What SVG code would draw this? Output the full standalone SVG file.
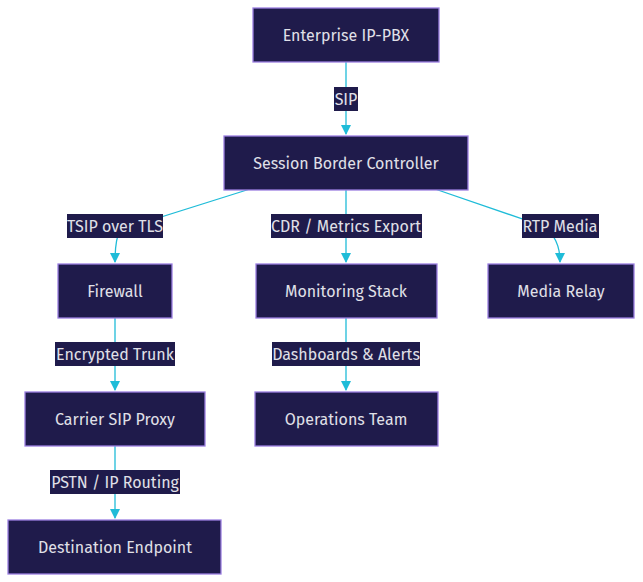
<svg xmlns="http://www.w3.org/2000/svg" width="643" height="582" viewBox="0 0 643 582">
<style>
.n rect{fill:#1f1b4b;stroke:#9b7fe0;stroke-width:1.3}
text{font-family:"Fira Sans","Noto Sans","Liberation Sans",sans-serif;font-size:16px;fill:#e0e0e8;text-anchor:middle;dominant-baseline:central}
.c path{fill:none;stroke:#1fbcd8;stroke-width:1.3}
.l rect{fill:#1f1b4b}
</style>
<defs><marker id="a" viewBox="0 0 10 10" refX="9" refY="5" markerWidth="8" markerHeight="8" orient="auto"><path d="M0,0L10,5L0,10z" fill="#1fbcd8"/></marker></defs>
<rect width="643" height="582" fill="#fff"/>
<g class="c">
<path d="M346,62V134" marker-end="url(#a)"/>
<path d="M250,189L120,230Q115,240 115,262" marker-end="url(#a)"/>
<path d="M346,189V262" marker-end="url(#a)"/>
<path d="M435,189L540,225Q560,235 560,262" marker-end="url(#a)"/>
<path d="M115,318V390" marker-end="url(#a)"/>
<path d="M346,318V390" marker-end="url(#a)"/>
<path d="M115,446V518" marker-end="url(#a)"/>
</g>
<g class="l">
<rect x="334" y="87" width="24" height="24"/><text x="346" y="99">SIP</text>
<rect x="67" y="214" width="96" height="24"/><text x="115" y="226">TSIP over TLS</text>
<rect x="271" y="214" width="151" height="24"/><text x="346" y="226">CDR / Metrics Export</text>
<rect x="522" y="214" width="77" height="24"/><text x="560" y="226">RTP Media</text>
<rect x="55" y="342" width="120" height="24"/><text x="115" y="354">Encrypted Trunk</text>
<rect x="272" y="342" width="148" height="24"/><text x="346" y="354">Dashboards &amp; Alerts</text>
<rect x="50" y="470" width="130" height="24"/><text x="115" y="482">PSTN / IP Routing</text>
</g>
<g id="pbx" class="n"><rect x="253" y="8" width="186" height="54"/><text x="346" y="35">Enterprise IP-PBX</text></g>
<g id="sbc" class="n"><rect x="224" y="136" width="244" height="54"/><text x="346" y="163">Session Border Controller</text></g>
<g id="fw" class="n"><rect x="58" y="264" width="114" height="54"/><text x="115" y="291">Firewall</text></g>
<g id="mon" class="n"><rect x="256" y="264" width="181" height="54"/><text x="346" y="291">Monitoring Stack</text></g>
<g id="relay" class="n"><rect x="488" y="264" width="146" height="54"/><text x="561" y="291">Media Relay</text></g>
<g id="proxy" class="n"><rect x="25" y="392" width="180" height="54"/><text x="115" y="419">Carrier SIP Proxy</text></g>
<g id="ops" class="n"><rect x="255" y="392" width="183" height="54"/><text x="346" y="419">Operations Team</text></g>
<g id="dest" class="n"><rect x="8" y="520" width="213" height="54"/><text x="115" y="547">Destination Endpoint</text></g>
</svg>
